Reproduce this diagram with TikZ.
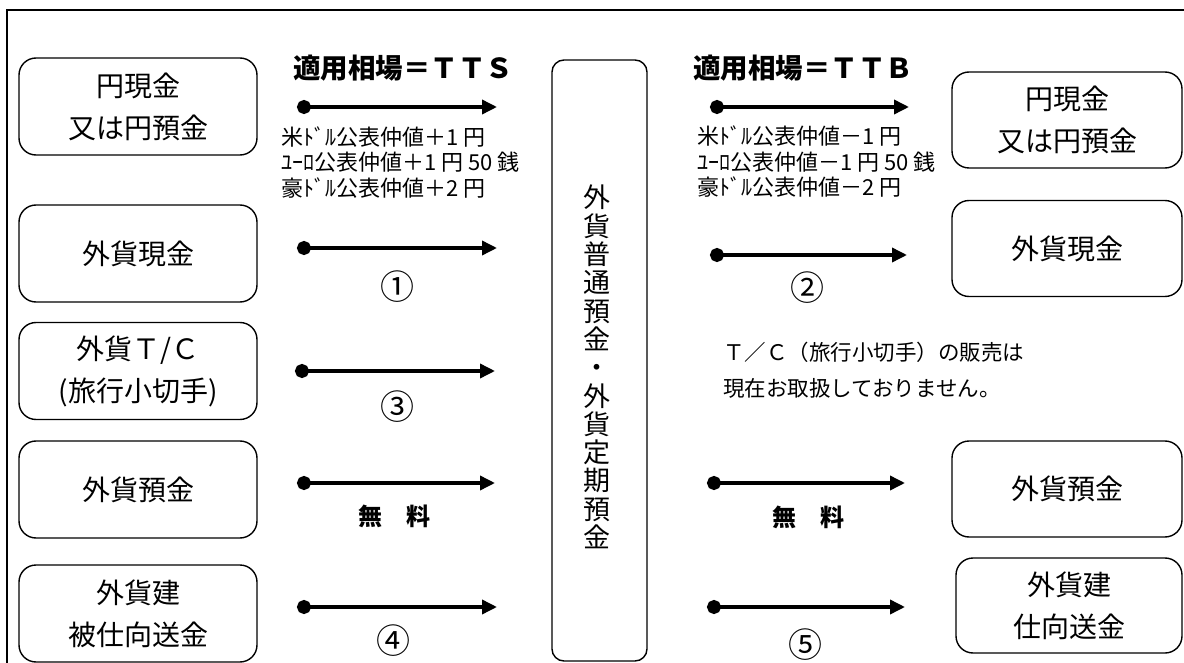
\documentclass[tikz,border=0pt]{standalone}
\usepackage{fontspec}
\setmainfont{Noto Sans CJK JP}
\newfontfamily\cjk{Noto Sans CJK JP}
\usetikzlibrary{arrows.meta}
\begin{document}
\begin{tikzpicture}[x=1pt,y=-1pt,
  boxtxt/.style={font=\cjk\fontsize{28}{42}\selectfont},
  lbox/.style={draw, line width=1.4pt, rounded corners=17pt, minimum width=238pt, minimum height=97pt, inner sep=0pt, align=center, boxtxt},
  rbox/.style={draw, line width=1.4pt, rounded corners=17pt, minimum width=230pt, minimum height=96pt, inner sep=0pt, align=center, boxtxt},
  cbox/.style={draw, line width=1.4pt, rounded corners=12pt, minimum width=95pt, minimum height=601pt, inner sep=0pt},
  vtext/.style={align=center, inner sep=0pt, font=\cjk\fontsize{27}{28.3}\selectfont},
  arr/.style={line width=3.5pt, {Circle[length=14pt]}-{Triangle[length=15pt,width=14pt]}},
  ttl/.style={inner sep=0pt, font=\cjk\bfseries\fontsize{27.5}{30}\selectfont},
  rate/.style={anchor=west, align=left, inner sep=0pt, font=\cjk\fontsize{22}{25.5}\selectfont},
  num/.style={inner sep=0pt, font=\cjk\fontsize{34}{36}\selectfont},
  free/.style={inner sep=0pt, font=\cjk\bfseries\fontsize{24}{26}\selectfont},
  note/.style={anchor=west, align=left, inner sep=0pt, font=\cjk\fontsize{21.5}{36}\selectfont}]
\path[use as bounding box] (0,0) rectangle (1184,663);
\clip (0,0) rectangle (1184,663);
% outer frame
\draw[line width=2.5pt] (7,10) rectangle (1300,800);
% left boxes
\node[lbox] (L1) at (138,106.5) {円現金\\又は円預金};
\node[lbox] (L2) at (138,253.5) {外貨現金};
\node[lbox] (L3) at (138,371) {外貨Ｔ/Ｃ\\(旅行小切手)};
\node[lbox] (L4) at (138,489.5) {外貨預金};
\node[lbox] (L5) at (138,613.5) {外貨建\\被仕向送金};
% central box
\node[cbox] (C) at (599.5,360.5) {};
\node[vtext] (CT) at (597,367) {外\\貨\\普\\通\\預\\金\\・\\外\\貨\\定\\期\\預\\金};
% right boxes
\node[rbox] (R1) at (1067,120) {円現金\\又は円預金};
\node[rbox] (R2) at (1067,248.5) {外貨現金};
\node[rbox] (R4) at (1067,489) {外貨預金};
\node[rbox, minimum width=226pt, minimum height=95pt] (R5) at (1069,605.5) {外貨建\\仕向送金};
% titles
\node[ttl] (T1) at (403,68) {適用相場＝ＴＴＳ};
\node[ttl] (T2) at (803,68) {適用相場＝ＴＴＢ};
% left arrows
\coordinate (la1s) at (297,107); \coordinate (la1e) at (497,107);
\coordinate (la2s) at (297,248); \coordinate (la2e) at (497,248);
\coordinate (la3s) at (295,371); \coordinate (la3e) at (495,371);
\coordinate (la4s) at (297,483); \coordinate (la4e) at (495,483);
\coordinate (la5s) at (297,607); \coordinate (la5e) at (497,607);
\draw[arr] (la1s) -- (la1e);
\draw[arr] (la2s) -- (la2e);
\draw[arr] (la3s) -- (la3e);
\draw[arr] (la4s) -- (la4e);
\draw[arr] (la5s) -- (la5e);
% right arrows
\coordinate (ra1s) at (710,107); \coordinate (ra1e) at (909,107);
\coordinate (ra2s) at (710,255); \coordinate (ra2e) at (907,255);
\coordinate (ra4s) at (707,483); \coordinate (ra4e) at (905,483);
\coordinate (ra5s) at (707,607); \coordinate (ra5e) at (905,607);
\draw[arr] (ra1s) -- (ra1e);
\draw[arr] (ra2s) -- (ra2e);
\draw[arr] (ra4s) -- (ra4e);
\draw[arr] (ra5s) -- (ra5e);
% rate texts
\node[rate] (RL) at (281,162.5) {米ﾄﾞﾙ公表仲値＋1 円\\ﾕｰﾛ公表仲値＋1 円 50 銭\\豪ﾄﾞﾙ公表仲値＋2 円};
\node[rate] (RR) at (697,162) {米ﾄﾞﾙ公表仲値－1 円\\ﾕｰﾛ公表仲値－1 円 50 銭\\豪ﾄﾞﾙ公表仲値－2 円};
% numbers
\node[num] (n1) at (397,287) {①};
\node[num] (n2) at (807,288) {②};
\node[num] (n3) at (397,407) {③};
\node[num] (n4) at (393,641) {④};
\node[num] (n5) at (805,645) {⑤};
% free
\node[free] (f1) at (394,516) {無　料};
\node[free] (f2) at (808,517) {無　料};
% note
\node[note] (NT) at (723,370) {Ｔ／Ｃ（旅行小切手）の販売は\\現在お取扱しておりません。};
\end{tikzpicture}
\end{document}
